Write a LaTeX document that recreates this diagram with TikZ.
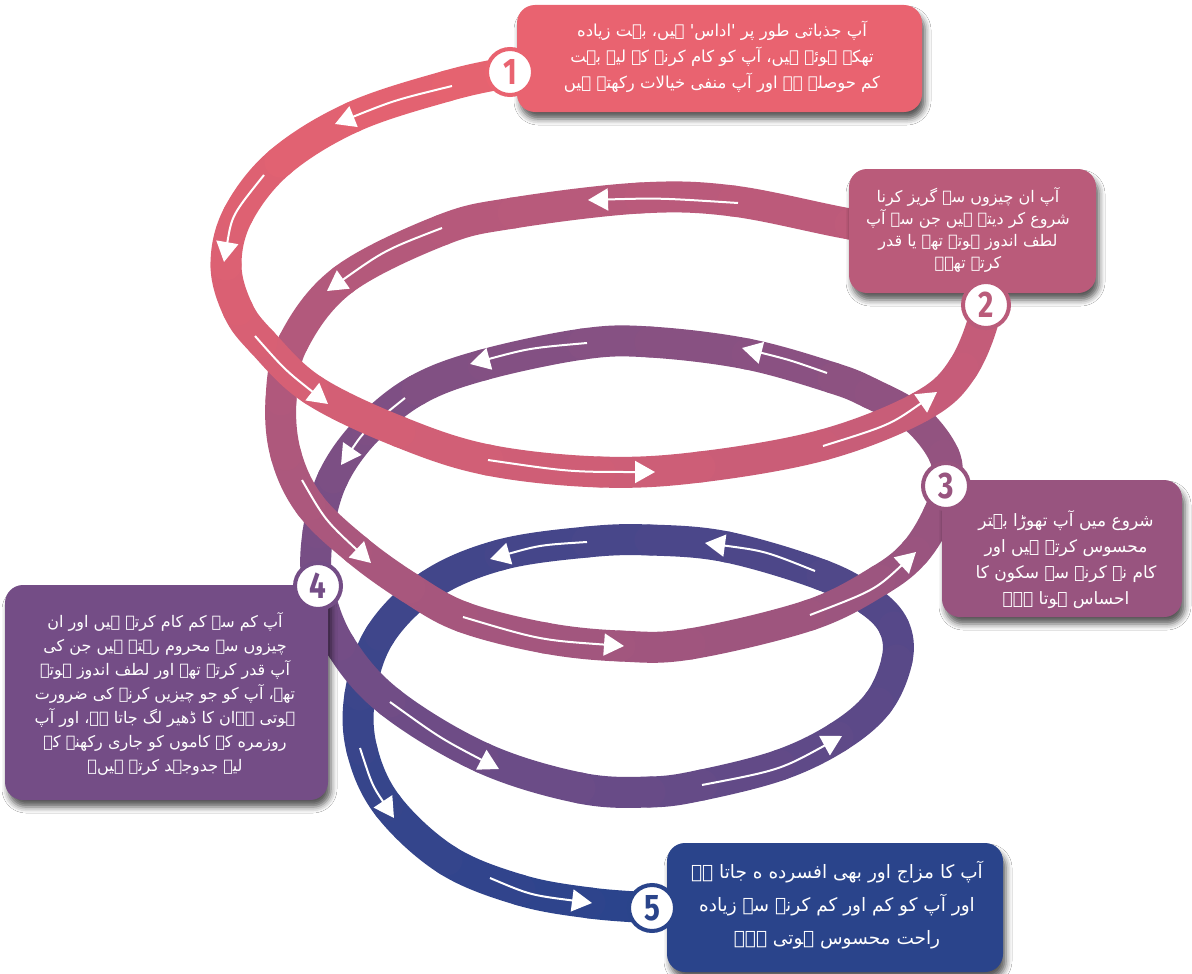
\documentclass[tikz,border=0pt]{standalone}
\usepackage{fontspec}
\usepackage{graphicx}
\usetikzlibrary{calc,arrows.meta,shadows.blur}
\newfontfamily\ur[Script=Arabic]{DejaVu Sans}
\newfontfamily\numf{Fira Sans}
\TeXXeTstate=1
\definecolor{c1}{RGB}{233,99,112}
\definecolor{c2}{RGB}{186,91,122}
\definecolor{c3}{RGB}{152,84,127}
\definecolor{c4}{RGB}{116,77,134}
\definecolor{c5}{RGB}{42,68,139}
\tikzset{
  band/.style={line width=31pt, line cap=round},
  flow/.style={draw=white, line width=2pt, -{Triangle[length=20pt,width=22pt]}},
  box/.style={rounded corners=18pt, inner sep=0pt,
    blur shadow={shadow xshift=3pt, shadow yshift=-7pt, shadow blur radius=6pt, shadow opacity=65}},
  num/.style={circle, fill=white, line width=4pt, minimum size=46pt, inner sep=0pt,
    font=\numf\bfseries\fontsize{37}{37}\selectfont},
  txt/.style={text=white, align=center, inner sep=0pt},
}
\newcommand\bandpart[1]{%
  \foreach \i in {#1} {
    \pgfmathtruncatemacro\h{\i-1}
    \pgfmathtruncatemacro\j{\i+1}
    \pgfmathtruncatemacro\k{\i+2}
    \pgfmathsetmacro\m{\i+0.5}
    \pgfmathtruncatemacro\R{\m<18 ? 233-(\m-1)*38/17 : (\m<41 ? 195-(\m-18)*45/23 : (\m<54 ? 150-(\m-41)*32/13 : (\m<64 ? 118-(\m-54)*3 : 88-(\m-64)*46/16)))}
    \pgfmathtruncatemacro\G{\m<18 ? 100-(\m-1)*8/17 : (\m<41 ? 92-(\m-18)*8/23 : (\m<54 ? 84-(\m-41)*6/13 : (\m<64 ? 78-(\m-54)*0.5 : 73-(\m-64)*5/16)))}
    \pgfmathtruncatemacro\B{\m<18 ? 112+(\m-1)*10/17 : (\m<41 ? 122+(\m-18)*6/23 : (\m<54 ? 128+(\m-41)*6/13 : (\m<64 ? 134+(\m-54)*0.3 : 137+(\m-64)*4/16)))}
    \definecolor{segc}{RGB}{\R,\G,\B}
    \draw[band, draw=segc] (p\i) .. controls ($(p\i)+0.1667*(p\j)-0.1667*(p\h)$) and ($(p\j)-0.1667*(p\k)+0.1667*(p\i)$) .. (p\j);
  }}
\begin{document}
\begin{tikzpicture}[x=1pt,y=-1pt]
\useasboundingbox (0,0) rectangle (1192,974);
\fill[white] (0,0) rectangle (1192,974);
\foreach \n/\x/\y in {1/560/64, 2/510/72, 3/447/86, 4/353/117, 5/280/162, 6/238/215, 7/226/265, 8/238/310, 9/262/342, 10/313/390,
 11/400/432, 12/488/460, 13/600/472, 14/700/467, 15/823/445, 16/920/407, 17/963/368, 18/987/305,
 19/982/262, 20/940/237, 21/850/224, 22/733/201, 23/640/198, 24/513/213, 25/442/230, 26/343/280, 27/293/343, 28/281/400,
 29/286/455, 30/310/505, 31/357/550, 32/410/588, 33/463/617, 34/545/638, 35/620/646, 36/690/644, 37/810/615, 38/880/580,
 39/915/552, 40/938/515, 41/946/486,
 42/944/455, 43/915/418, 44/870/393, 45/833/378, 46/747/354, 47/650/342, 48/583/344, 49/483/365, 50/417/390, 51/367/430,
 52/333/478, 53/318/533, 54/318/586,
 55/340/645, 56/390/702, 57/483/758, 58/580/788, 59/650/792, 60/702/785, 61/780/765, 62/838/737, 63/878/703, 64/897/660,
 65/894/627, 66/870/601, 67/822/575, 68/727/547, 69/650/540, 70/587/542, 71/500/555, 72/430/585, 73/380/635, 74/360/695,
 75/362/750, 76/388/806, 77/447/860, 78/520/890, 79/590/903, 80/653/908}
  \coordinate (p\n) at (\x,\y);
\coordinate (p0) at (p1);
\coordinate (p81) at (p80);

% last turn (bottom) first
\bandpart{79,78,...,54}
\draw[flow] (390,702) .. controls (440,738) .. (499,769);
\draw[flow] (702,785) .. controls (780,770) .. (842,736);
\draw[flow] (815,571) .. controls (765,551) .. (705,543);
\draw[flow] (587,542) .. controls (540,545) .. (490,559);
\draw[flow] (360,748) .. controls (372,785) .. (394,818);
\draw[flow] (490,878) .. controls (530,895) .. (592,903);

\bandpart{53,52,...,41}
\draw[flow] (827,373) .. controls (790,360) .. (742,348);
\draw[flow] (587,343) .. controls (530,348) .. (470,364);
\draw[flow] (405,398) .. controls (365,430) .. (341,465);

\bandpart{40,39,...,18}
\draw[flow] (738,203) .. controls (660,198) .. (588,200);
\draw[flow] (442,228) .. controls (385,250) .. (327,291);
\draw[flow] (302,480) .. controls (325,520) .. (371,563);
\draw[flow] (463,617) .. controls (540,640) .. (624,646);
\draw[flow] (810,615) .. controls (875,590) .. (916,552);

\bandpart{17,16,...,1}
\draw[flow] (452,86) .. controls (395,100) .. (335,124);
\draw[flow] (264,175) .. controls (232,215) .. (224,262);
\draw[flow] (255,336) .. controls (285,370) .. (328,404);
\draw[flow] (488,460) .. controls (570,472) .. (655,472);
\draw[flow] (823,446) .. controls (890,425) .. (937,392);

% boxes
\node[box, fill=c1, minimum width=405pt, minimum height=107pt] (b1) at (719.5,58.5) {};
\node[box, fill=c2, minimum width=247pt, minimum height=124pt] (b2) at (972.5,231) {};
\node[box, fill=c3, minimum width=240pt, minimum height=137pt] (b3) at (1062,548.5) {};
\node[box, fill=c4, minimum width=323pt, minimum height=215pt] (b4) at (166.5,692.5) {};
\node[box, fill=c5, minimum width=336pt, minimum height=129pt] (b5) at (835,907.5) {};

\node[txt, font=\ur\fontsize{16.5}{26}\selectfont] (t1) at (722,57) {%
\beginR آپ جذباتی طور پر 'اداس' ہیں، بہت زیاده\endR\\
\beginR تھکے ہوئے ہیں، آپ کو کام کرنے کے لیے بہت\endR\\
\beginR کم حوصلہ ہے اور آپ منفی خیالات رکھتے ہیں\endR};
\node[txt, font=\ur\fontsize{16}{22}\selectfont] (t2) at (968,230) {%
\beginR آپ ان چیزوں سے گریز کرنا\endR\\
\beginR شروع کر دیتے ہیں جن سے آپ\endR\\
\beginR لطف اندوز ہوتے تھے یا قدر\endR\\
\beginR کرتے تھے۔\endR};
\node[txt, font=\ur\fontsize{17}{26}\selectfont] (t3) at (1066,560) {%
\beginR شروع میں آپ تھوڑا بہتر\endR\\
\beginR محسوس کرتے ہیں اور\endR\\
\beginR کام نہ کرنے سے سکون کا\endR\\
\beginR احساس ہوتا ہے۔\endR};
\node[txt, font=\ur\fontsize{16}{24}\selectfont] (t4) at (165,694) {%
\beginR آپ کم سے کم کام کرتے ہیں اور ان\endR\\
\beginR چیزوں سے محروم رہتے ہیں جن کی\endR\\
\beginR آپ قدر کرتے تھے اور لطف اندوز ہوتے\endR\\
\beginR تھے، آپ کو جو چیزیں کرنے کی ضرورت\endR\\
\beginR ہوتی ہےان کا ڈھیر لگ جاتا ہے، اور آپ\endR\\
\beginR روزمره کے کاموں کو جاری رکھنے کے\endR\\
\beginR لیے جدوجہد کرتے ہیں۔\endR};
\node[txt, font=\ur\fontsize{18.5}{33}\selectfont] (t5) at (837,905) {%
\beginR آپ کا مزاج اور بھی افسرده ه جاتا ہے\endR\\
\beginR اور آپ کو کم اور کم کرنے سے زیاده\endR\\
\beginR راحت محسوس ہوتی ہے۔\endR};

% numbered circles
\node[num, draw=c1, text=c1] (n1) at (510,72) {\scalebox{0.8}[1]{1}};
\node[num, draw=c2, text=c2] (n2) at (986,305) {\scalebox{0.8}[1]{2}};
\node[num, draw=c3, text=c3] (n3) at (946,486) {\scalebox{0.8}[1]{3}};
\node[num, draw=c4, text=c4] (n4) at (318,586) {\scalebox{0.8}[1]{4}};
\node[num, draw=c5, text=c5] (n5) at (652,908) {\scalebox{0.8}[1]{5}};
\end{tikzpicture}
\end{document}
